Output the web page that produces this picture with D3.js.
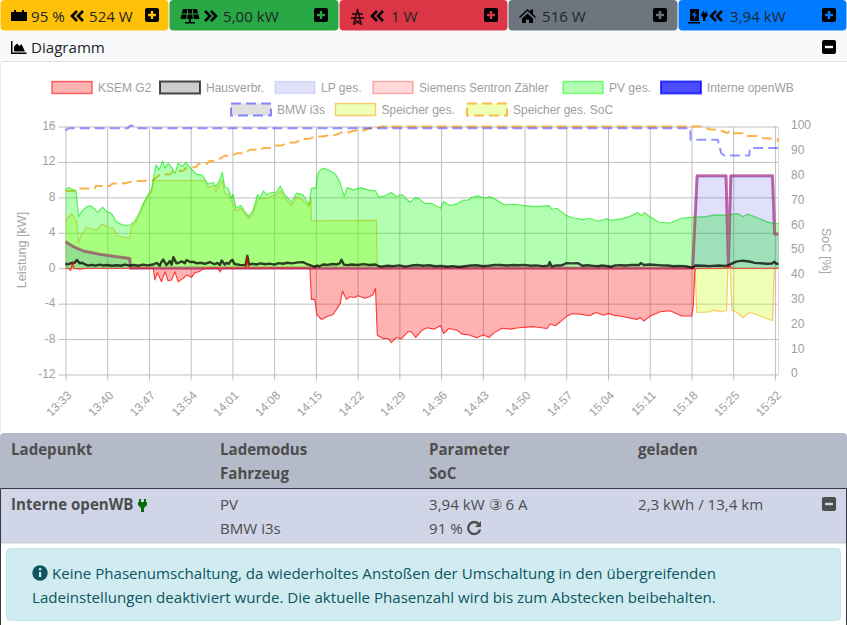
<!DOCTYPE html>
<html>
<head>
<meta charset="utf-8">
<script src="https://cdn.jsdelivr.net/npm/d3@7"></script>
<style>
  html, body { margin: 0; padding: 0; background: #fff; }
  svg { display: block; }
  .ui { font-family: "Open Sans", "Noto Sans", sans-serif; font-size: 15.1px; }
  .ch { font-family: "Liberation Sans", Arial, sans-serif; font-size: 12px; fill: #9e9e9e; }
  .ti { font-family: "Liberation Sans", Arial, sans-serif; font-size: 12.6px; fill: #a6a6a6; }
</style>
</head>
<body>
<svg id="page" width="847" height="625"></svg>
<script>
// Werte: [Minuten seit 13:33, Wert]
const timeTicks = [0, 7, 14, 21, 28, 35, 42, 49, 56, 63, 70, 77, 84, 91, 98, 105, 112, 119];
const timeLabels = ["13:33", "13:40", "13:47", "13:54", "14:01", "14:08", "14:15", "14:22", "14:29",
  "14:36", "14:43", "14:50", "14:57", "15:04", "15:11", "15:18", "15:25", "15:32"];
const powerTicks = [16, 12, 8, 4, 0, -4, -8, -12];
const socTicks = [100, 90, 80, 70, 60, 50, 40, 30, 20, 10, 0];

const pv = [[0,8.85],[.47,9.1],[1.03,8.95],[1.76,8.73],[2,7.15],[2.2,5.83],[2.7,6.4],[3.55,6.96],[4.2,7.03],[4.9,6.7],[5.4,6.3],
  [6.2,6.9],[6.9,6.4],[7.7,6.2],[8.5,5.26],[9.45,4.9],[10.8,4.85],[11.65,5.34],[12.5,6.4],[13.15,7.45],[13.9,8.35],[14.4,8.85],
  [14.8,10.35],[15.2,11.67],[15.7,11.1],[16.3,12.1],[16.7,11.3],[17.2,11.85],[17.7,11.5],[18.35,10.7],[18.9,11.85],[19.6,11.5],
  [20.2,11.95],[20.85,11.4],[22,10.6],[22.9,10.55],[23.9,9.5],[24.8,9.7],[25.2,9.2],[25.9,10],[26.3,10.85],[26.7,9.2],[27.3,9],
  [27.85,7.9],[28.1,8.35],[28.6,6.8],[29.4,7.07],[30.1,6.4],[30.75,5.83],[31.5,6.6],[32.2,8.3],[32.6,7.9],[33.2,8.73],[33.7,8.3],
  [34.55,8.55],[35.4,8.6],[36.05,9.26],[36.8,8.3],[37.9,7.45],[38.75,8.47],[39.85,8.3],[40.85,7.15],[41.25,9.05],[42,9.05],
  [42.4,10.85],[43.1,11.3],[44.05,11.1],[45.2,10.7],[46,9.8],[46.75,8.1],[47.25,9.1],[48.25,8.85],[49.6,9.1],[50.75,8.85],[52,8.73],
  [52.6,8],[53.55,8.16],[54.65,8.55],[55.5,8.1],[56.5,8.3],[57.75,7.45],[58.75,8],[59.4,7.8],[60.25,7.33],[61.4,7.33],[62.9,6.77],
  [63.45,7.53],[64.45,7.07],[65.55,7.26],[66.7,7.68],[67.5,7.68],[68.1,7.98],[69.2,8.16],[70.3,7.9],[71.15,8.09],[72.55,7.6],
  [73.65,7.15],[75.3,7.22],[77,7.07],[78.95,6.96],[81.1,7.07],[81.6,6.66],[82.4,6.77],[84,5.94],[85.1,5.7],[86.8,5.49],[87.9,5.64],
  [89.3,5.3],[90.7,5.57],[91.55,5.41],[93.2,5.57],[94.6,5.83],[96,6.28],[96.55,5.94],[97.1,6.28],[97.95,5.83],[99.6,5.19],[101.3,5.08],
  [103.25,5.64],[105.2,5.75],[107.45,5.83],[108.85,6.02],[110.8,6],[112.75,6.17],[113.6,5.8],[114.4,6.1],[116.1,5.7],[118.05,5.15],[119.6,5.04]];

const speicher = [[0,5.26],[1.03,6.2],[1.87,5.26],[2.2,2.9],[2.7,3.8],[3.55,4.6],[4.4,4.43],[5.2,4.3],[6.2,5],[7.2,4.6],[8,4.5],[8.6,3.75],
  [9.45,3.5],[10.8,3.38],[11,4.6],[11.9,5.26],[13.05,7.15],[13.9,8.2],[14.45,8.65],[14.85,9.9],[15.85,9.9],[23.1,9.9],[23.95,9.1],
  [24.8,9.33],[25.2,8.58],[25.9,9.6],[26.3,9.9],[26.7,8.47],[27.3,8.3],[27.85,7.6],[28.6,6.47],[29.4,6.77],[30.1,6.13],[30.75,5.53],
  [31.5,6.2],[32.2,7.7],[32.9,7.9],[33.7,7.9],[34.55,8.16],[35.4,8.3],[36.05,8.73],[36.8,7.9],[37.9,7.07],[38.75,8],[39.85,7.7],
  [40.85,6.9],[41.2,7.9],[41.2,5.34],[52.15,5.41],[52.3,0],[105.6,0],[105.9,-5],[108.1,-4.92],[108.7,-4.73],[110.1,-4.92],[110.9,-4.77],
  [111.1,0],[111.5,0],[111.8,-4.73],[112.6,-5],[113.6,-5.56],[114.7,-5.03],[115.95,-5.22],[117.1,-5.56],[118.6,-5.93],[118.9,0],[119.6,0]];

const ksem = [[0,0],[.5,0],[.87,-.28],[1.2,.74],[1.4,0],[2.4,-.1],[3.5,0],[14.7,0],[15,-1.33],[15.4,-.5],[16.1,-1.52],[16.7,-.4],[17.2,-1.41],
  [17.8,-1.33],[18.35,-.4],[18.9,-1.52],[19.75,-1.15],[20.3,-.77],[21.15,-1.03],[21.7,-.5],[22.4,-.4],[23.2,-.05],[25.6,0],[25.9,-.43],
  [26.3,0],[30.2,0],[30.5,1.4],[30.7,0],[41,0],[41.25,-3.52],[41.8,-3.52],[42.2,-5.3],[42.95,-5.78],[43.8,-5.48],[44.9,-5.22],[46.1,-3.97],
  [46.45,-2.58],[47.1,-3.52],[47.7,-3.22],[48.5,-3.3],[49.05,-3.1],[50.2,-3.4],[51,-3.22],[51.6,-2.96],[52,-2.28],[52.3,-7.56],[53.25,-7.93],
  [54.1,-7.93],[54.65,-8.39],[55.5,-7.82],[56.3,-7.97],[57.45,-7.18],[58,-7.18],[58.75,-7.82],[59.7,-7.07],[60.65,-6.73],[61.8,-6.88],
  [62.9,-6.5],[63.45,-7.37],[64.3,-6.8],[65.7,-7],[66.5,-7.44],[67.6,-7.52],[69,-7.86],[70.15,-7.52],[71,-7.82],[71.9,-7.3],[73.2,-6.77],
  [74.6,-6.88],[76,-6.73],[78.5,-6.6],[80.8,-6.8],[81.3,-6.3],[82.15,-6.5],[83,-6.05],[84.1,-5.4],[84.95,-5.14],[86.35,-5.18],[87.9,-5.37],
  [89,-5],[90.25,-5.3],[91.1,-5.1],[91.9,-5.3],[93.6,-5.48],[95.85,-5.78],[96.4,-5.56],[97,-5.97],[98.1,-5.4],[99.75,-4.92],[101.4,-4.8],
  [103.4,-5.4],[105.05,-5.4],[105.3,-4.35],[105.6,0],[110.9,0],[111.1,.25],[111.5,.25],[111.8,0],[119.6,0]];

const ladepunkt = [[0,3],[1.34,2.43],[3,1.95],[5.8,1.57],[8.6,1.3],[10.8,1.1],[10.9,.02],[105.2,.02],[105.95,10.43],[110.8,10.43],[111.2,.17],
  [111.6,10.43],[118.6,10.43],[118.95,3.87],[119.6,3.87]];

const haus = [[0,.55],[.3,.42],[.6,.5],[1.05,.59],[1.5,.6],[1.9,.93],[2.4,.55],[2.8,.62],[3.2,.45],[3.8,.29],[4.4,.38],[5,.3],[5.8,.4],[6.4,.3],
  [7,.36],[7.8,.28],[8.6,.34],[9.3,.28],[10,.4],[10.8,.3],[11.5,.36],[12.2,.28],[13,.4],[13.8,.32],[14.7,.42],[15.3,.6],[15.8,.29],[16.1,.7],
  [16.4,.98],[16.9,.36],[17.2,.55],[17.5,.8],[17.8,.4],[18.1,1.25],[18.6,.55],[19,.62],[19.5,.78],[20,.55],[20.3,.93],[20.9,.7],[21.5,.72],
  [22,.55],[22.6,.62],[23.4,.5],[24.2,.7],[25,.45],[25.5,.6],[25.9,.36],[26.2,.88],[26.7,.4],[27,.6],[27.4,.48],[27.7,.8],[28,.95],[28.3,.5],
  [28.6,.45],[29.3,.38],[30.2,.35],[30.5,1.4],[30.8,.4],[31.4,.5],[32,.42],[32.7,.55],[33.5,.45],[34.2,.52],[35,.4],[35.8,.58],[36.5,.5],
  [37.2,.62],[38,.55],[39,.66],[39.85,.68],[40.4,.5],[41,.35],[41.8,.15],[42.2,.3],[42.6,.22],[43.2,.42],[44,.38],[44.8,.48],[45.5,.42],
  [46,.55],[46.3,.95],[46.7,.4],[47.3,.35],[48,.42],[49,.36],[50,.46],[51,.36],[52,.42],[52.6,.22],[53,.18],[54,.28],[55,.24],[56,.32],
  [57,.18],[58,.3],[59,.36],[60,.28],[61,.33],[62,.22],[63,.27],[64,.17],[65,.24],[66,.14],[67,.22],[68,.3],[69,.34],[70,.22],[71,.28],
  [72,.38],[73,.36],[74,.3],[75,.36],[76,.33],[77,.38],[78,.28],[79,.32],[80,.24],[81,.27],[81.2,.68],[81.6,.18],[82.3,.32],[83,.3],[83.6,.42],
  [84,.58],[85,.55],[86,.57],[86.7,.28],[87.6,.33],[88.5,.27],[89.3,.22],[90,.3],[91,.22],[91.5,.16],[92.2,.32],[93,.34],[94,.3],[95,.38],
  [96.2,.36],[96.5,.58],[97,.36],[98,.42],[99,.38],[100,.32],[101,.3],[102,.22],[103,.27],[104,.22],[105.2,.05],[105.6,.3],[107,.28],[108,.24],
  [109.5,.3],[110.8,.25],[111.3,.38],[112.5,.74],[113.6,.85],[114.7,.76],[115.6,.6],[116.7,.56],[117.6,.5],[118.5,.52],[118.9,.74],[119.2,.5],[119.6,.5]];

const bmwSoc = [[0,98.4],[.5,99.3],[10.5,99.3],[10.8,100.3],[11.4,100.3],[11.8,99.3],[104.8,99.3],[104.85,94.7],[109.4,94.7],[110,89.2],
  [110.5,88.3],[114.7,88.3],[114.8,91.3],[119.6,91.3]];

const speicherSoc = [[0,74],[1.8,74],[2.2,75],[4.9,75],[5.1,76],[7.4,76],[7.9,77],[10,77.1],[11.5,78],[14.6,78.2],[15.8,80.5],[17.5,80.7],[18,81.9],
  [19.8,82.2],[20.3,83.4],[21.9,83.6],[22.2,84.8],[23.7,85],[24.2,86.1],[25.3,86.2],[26.7,88.2],[27.85,88.2],[28.7,89.2],[30.1,89.2],
  [30.9,90.6],[32.6,90.6],[33.2,91.3],[34.55,91.3],[35.1,92.3],[36.2,92.3],[37.35,93.5],[38.5,93.5],[39.85,95],[40.8,95],[42,96],[43.2,96],
  [44,96.5],[45.2,96.5],[46.3,97.6],[47.4,97.6],[48.5,98.4],[50,98.4],[51,99.3],[52.15,99.3],[53,100],[106.9,100],[108,98.9],[109.7,98.6],
  [111.1,97.3],[111.4,98.3],[111.9,97.3],[113.6,97.3],[114.15,96.2],[115.8,96.2],[116.7,95.3],[117.8,95.3],[118.6,95],[119.4,95],[119.6,93.8]];

const legendNames = ["KSEM G2", "Hausverbr.", "LP ges.", "Siemens Sentron Zähler", "PV ges.", "Interne openWB",
  "BMW i3s", "Speicher ges.", "Speicher ges. SoC"];
const legendX = [52, 160, 275, 373, 563, 661, 231, 335.5, 467];
const legendFill = ["rgba(255,0,0,.3)", "rgba(0,0,0,.2)", "rgba(50,50,220,.15)", "rgba(255,0,0,.15)", "rgba(0,255,0,.3)", "rgba(0,0,255,.7)",
  "rgba(0,0,0,.12)", "rgba(200,255,13,.3)", "rgba(200,255,13,.3)"];
const legendStroke = ["rgba(255,0,0,.6)", "rgba(0,0,0,.7)", "rgba(50,50,220,.12)", "rgba(255,0,0,.3)", "rgba(0,255,0,.5)", "rgba(0,0,255,.7)",
  "rgba(60,60,255,.6)", "rgba(250,170,30,.6)", "rgba(250,170,30,.8)"];

const svg = d3.select("#page");

// --- Kopfzeile ---
const tiles = [
  { x: 0, w: 169, c: "#ffc107" }, { x: 169, w: 170, c: "#28a745" }, { x: 339, w: 169, c: "#dc3545" },
  { x: 508, w: 170, c: "#6c757d" }, { x: 678, w: 169, c: "#007bff" },
];
svg.append("g").selectAll("rect").data(tiles).join("rect")
  .attr("x", (d) => d.x + .5).attr("y", 0).attr("width", (d) => d.w - 1).attr("height", 30.5).attr("rx", 4).attr("fill", (d) => d.c);

function txt(x, y, s, opt = {}) {
  return svg.append("text").attr("class", "ui").attr("x", x).attr("y", y).text(s)
    .attr("fill", opt.fill || "#212529").attr("font-weight", opt.bold ? 700 : 400);
}
function chevrons(x, dir) {
  const g = svg.append("g").attr("transform", `translate(${x},16)`).attr("fill", "none").attr("stroke", "#000").attr("stroke-width", 2.6);
  [0, 6].forEach((o) => g.append("path").attr("d", dir < 0 ? `M${o + 5},-5 L${o},0 L${o + 5},5` : `M${o},-5 L${o + 5},0 L${o},5`));
}
function boxBtn(x, y, col, plus, bg = "#000") {
  svg.append("rect").attr("x", x).attr("y", y).attr("width", 14).attr("height", 14).attr("rx", 2).attr("fill", bg);
  svg.append("rect").attr("x", x + 3).attr("y", y + 5.8).attr("width", 8).attr("height", 2.4).attr("fill", col);
  if (plus) svg.append("rect").attr("x", x + 5.8).attr("y", y + 3).attr("width", 2.4).attr("height", 8).attr("fill", col);
}
// Batterie
svg.append("path").attr("d", "M11,12h3v-2h2v2h6v-2h2v2h3v9h-16z").attr("fill", "#000");
txt(31, 22, "95 %"); chevrons(72, -1); txt(89, 22, "524 W"); boxBtn(145, 8, "#ffc107", true);
// PV
svg.append("path").attr("d", "M183,9h14l2.5,10h-19zM189,19h2v3h4v1.5h-10v-1.5h4z").attr("fill", "#000");
svg.append("path").attr("d", "M182,14h16M187.7,9.5l-1,9.5M192.3,9.5l1,9.5").attr("stroke", "#28a745").attr("stroke-width", 1);
chevrons(205, 1); txt(223, 22, "5,00 kW"); boxBtn(314, 8, "#28a745", true);
// Netz
svg.append("path").attr("d", "M357.5,9l-4,16M357.5,9l4,16M352,14h11M351,18h13M354.5,20l6,4M360.5,20l-6,4").attr("fill", "none").attr("stroke", "#1a0a0a").attr("stroke-width", 1.3);
chevrons(372, -1); txt(391, 22, "1 W"); boxBtn(484, 8, "#dc3545", true);
// Haus
svg.append("path").attr("d", "M519,17l8.5,-8l3,2.7v-2.2h2.5v4.6l3,2.9l-1,1l-7.5,-7l-7.5,7zM522,18.5l5.5,-5l5.5,5v4.5h-4v-3.5h-3v3.5h-4z").attr("fill", "#000");
txt(542, 22, "516 W"); boxBtn(653, 8, "#6c757d", true);
// Ladepunkt
svg.append("path").attr("d", "M690,9h9v12h-9zM688,22h12v1.5h-12zM703,11h1v2h1.5v-2h1v2h1v3l-2,1.5v3.5h-2.5v-3.5l-1.5,-1.5v-3h1z").attr("fill", "#000");
svg.append("path").attr("d", "M695.5,10.5l-3.5,5h2.5l-1,4l3.5,-5h-2.5z").attr("fill", "#007bff");
chevrons(711, -1); txt(730, 22, "3,94 kW"); boxBtn(822, 8, "#007bff", true);

// --- Diagramm-Kopf ---
svg.append("rect").attr("x", 0).attr("y", 31).attr("width", 847).attr("height", 30).attr("fill", "#f8f9fa");
svg.append("rect").attr("x", 1).attr("y", 61).attr("width", 846).attr("height", 1).attr("fill", "#dcdee0");
svg.append("path").attr("d", "M11,41h1.5v11.5h14v1.5h-15.5zM14,51.5v-5l3,-3l2.5,2.5l2,-2l3.5,7.5z").attr("fill", "#000");
txt(31, 53, "Diagramm");
boxBtn(822, 40, "#fff", false);
svg.append("rect").attr("x", 0).attr("y", 62).attr("width", 1).attr("height", 371).attr("fill", "#e8e8e8");

// --- Diagramm ---
const x = d3.scaleLinear().domain([0, 119.6]).range([65.5, 778.5]);
const yP = d3.scaleLinear().domain([-12, 16]).range([374.5, 126.5]);
const yS = d3.scaleLinear().domain([0, 100]).range([374.5, 126.5]);
const grid = "#bfbfbf";

const gx = svg.append("g").attr("transform", "translate(0,374.5)")
  .call(d3.axisBottom(x).tickValues(timeTicks).tickSize(-248).tickFormat(""));
gx.select(".domain").remove();
gx.selectAll("line").attr("stroke", grid).attr("y1", 6);
svg.append("g").selectAll("text").data(timeTicks).join("text").attr("class", "ch")
  .attr("text-anchor", "end")
  .attr("transform", (d) => `translate(${x(d) + 7},396) rotate(-45)`)
  .text((d, i) => timeLabels[i]);

const gy = svg.append("g").attr("transform", "translate(65.5,0)")
  .call(d3.axisLeft(yP).tickValues(powerTicks).tickSize(-713).tickFormat((d) => d));
gy.select(".domain").remove();
gy.selectAll("line").attr("stroke", grid).attr("x1", -7);
gy.selectAll("text").attr("class", "ch").attr("x", -10).attr("fill", null).attr("dy", "0.25em");
gy.attr("font-family", null).attr("font-size", null);

svg.append("line").attr("x1", 778.5).attr("x2", 778.5).attr("y1", 126.5).attr("y2", 374.5).attr("stroke", "#dcdcdc");
const gs = svg.append("g").attr("transform", "translate(779,0)")
  .call(d3.axisRight(yS).tickValues(socTicks).tickSize(0).tickPadding(12).tickFormat((d) => d));
gs.select(".domain").remove();
gs.selectAll("text").attr("class", "ch").attr("fill", null).attr("dy", "0.2em");
gs.attr("font-family", null).attr("font-size", null);

svg.append("text").attr("class", "ti").attr("transform", "translate(26,250) rotate(-90)").attr("text-anchor", "middle").text("Leistung [kW]");
svg.append("text").attr("class", "ti").attr("transform", "translate(822,251) rotate(90)").attr("text-anchor", "middle").text("SoC [%]");

const lineP = d3.line().x((d) => x(d[0])).y((d) => yP(d[1]));
const lineS = d3.line().x((d) => x(d[0])).y((d) => yS(d[1]));
const areaP = d3.area().x((d) => x(d[0])).y0(yP(0)).y1((d) => yP(d[1]));
const plot = svg.append("g");

function addArea(data, fill) { plot.append("path").datum(data).attr("d", areaP).attr("fill", fill); }
function addLine(gen, data, stroke, w, dash) {
  plot.append("path").datum(data).attr("d", gen).attr("fill", "none").attr("stroke", stroke).attr("stroke-width", w)
    .attr("stroke-linejoin", "round").attr("stroke-dasharray", dash || null);
}

// Reihenfolge wie im Original: erste Reihe liegt oben
addLine(lineS, speicherSoc, "rgba(250,160,30,.8)", 2, "10,5");
addArea(speicher, "rgba(200,255,13,.3)");
addLine(lineP, speicher, "rgba(250,160,0,.55)", 1.2);
addLine(lineS, bmwSoc, "rgba(60,60,255,.55)", 2, "10,5");
addLine(lineP, ladepunkt, "rgba(0,0,255,.42)", 2.8);
addArea(pv, "rgba(0,255,0,.3)");
addLine(lineP, pv, "rgba(0,230,0,.6)", 1.2);
addLine(lineP, ladepunkt, "rgba(255,40,40,.42)", 3);
addArea(ladepunkt, "rgba(50,50,220,.15)");
addLine(lineP, haus, "rgba(0,0,0,.75)", 2.4);
addArea(ksem, "rgba(255,0,0,.3)");
addLine(lineP, ksem, "rgba(255,0,0,.75)", 1.1);

// --- Legende ---
const leg = svg.append("g").selectAll("g").data(legendNames).join("g")
  .attr("transform", (d, i) => `translate(${legendX[i]},${i < 6 ? 81.5 : 103.5})`);
leg.append("rect").attr("width", 40).attr("height", 12)
  .attr("fill", (d, i) => legendFill[i]).attr("stroke", (d, i) => legendStroke[i])
  .attr("stroke-width", (d, i) => (i === 1 || i >= 5 && i !== 7 ? 2 : 1.4))
  .attr("stroke-dasharray", (d, i) => (i === 6 || i === 8 ? "10,5" : null));
leg.append("text").attr("class", "ch").attr("x", 46).attr("y", 10).text((d) => d);

// --- Tabelle ---
svg.append("path").attr("d", "M0,437a4,4 0 0 1 4,-4h839a4,4 0 0 1 4,4v51h-847z").attr("fill", "#b5bac9");
svg.append("rect").attr("x", 0.5).attr("y", 488.5).attr("width", 846).attr("height", 54.5).attr("fill", "#d0d6e7");
svg.append("path").attr("d", "M.5,625V488.5H846.5V625").attr("fill", "none").attr("stroke", "#343a40");
svg.append("line").attr("x1", 1).attr("x2", 846).attr("y1", 543).attr("y2", 543).attr("stroke", "#c4c8d0");

const dark = "#4d4d4d";
[[11, 455, "Ladepunkt"], [220, 455, "Lademodus"], [429, 455, "Parameter"], [638, 455, "geladen"], [220, 479, "Fahrzeug"], [429, 479, "SoC"],
  [11, 510, "Interne openWB"]].forEach((t) => txt(t[0], t[1], t[2], { fill: dark, bold: true }));
[[220, 510, "PV"], [220, 534, "BMW i3s"], [429, 510, "3,94 kW ③ 6 A"], [429, 534, "91 %"], [638, 510, "2,3 kWh / 13,4 km"]]
  .forEach((t) => txt(t[0], t[1], t[2], { fill: dark }));
svg.append("path").attr("d", "M139,499h2v3h3v-3h2v3h1v3l-3,3v4h-3v-4l-3,-3v-3h1z").attr("fill", "#0a6b0a");
boxBtn(822, 497, "#d0d6e7", false, dark);
svg.append("path").attr("d", "M479,524.5a6,6 0 1 0 1,5").attr("fill", "none").attr("stroke", dark).attr("stroke-width", 2.4);
svg.append("path").attr("d", "M481,521v6h-6z").attr("fill", dark);

// --- Hinweis ---
svg.append("rect").attr("x", 6.5).attr("y", 548.5).attr("width", 834).attr("height", 72).attr("rx", 4).attr("fill", "#d1ecf1").attr("stroke", "#bee5eb");
svg.append("circle").attr("cx", 40).attr("cy", 573).attr("r", 7.7).attr("fill", "#0c5460");
svg.append("rect").attr("x", 39).attr("y", 572).attr("width", 2.2).attr("height", 5).attr("fill", "#d1ecf1");
svg.append("circle").attr("cx", 40.1).attr("cy", 569.3).attr("r", 1.3).attr("fill", "#d1ecf1");
txt(52, 579, "Keine Phasenumschaltung, da wiederholtes Anstoßen der Umschaltung in den übergreifenden", { fill: "#0c5460" });
txt(32, 603, "Ladeinstellungen deaktiviert wurde. Die aktuelle Phasenzahl wird bis zum Abstecken beibehalten.", { fill: "#0c5460" });
</script>
</body>
</html>
